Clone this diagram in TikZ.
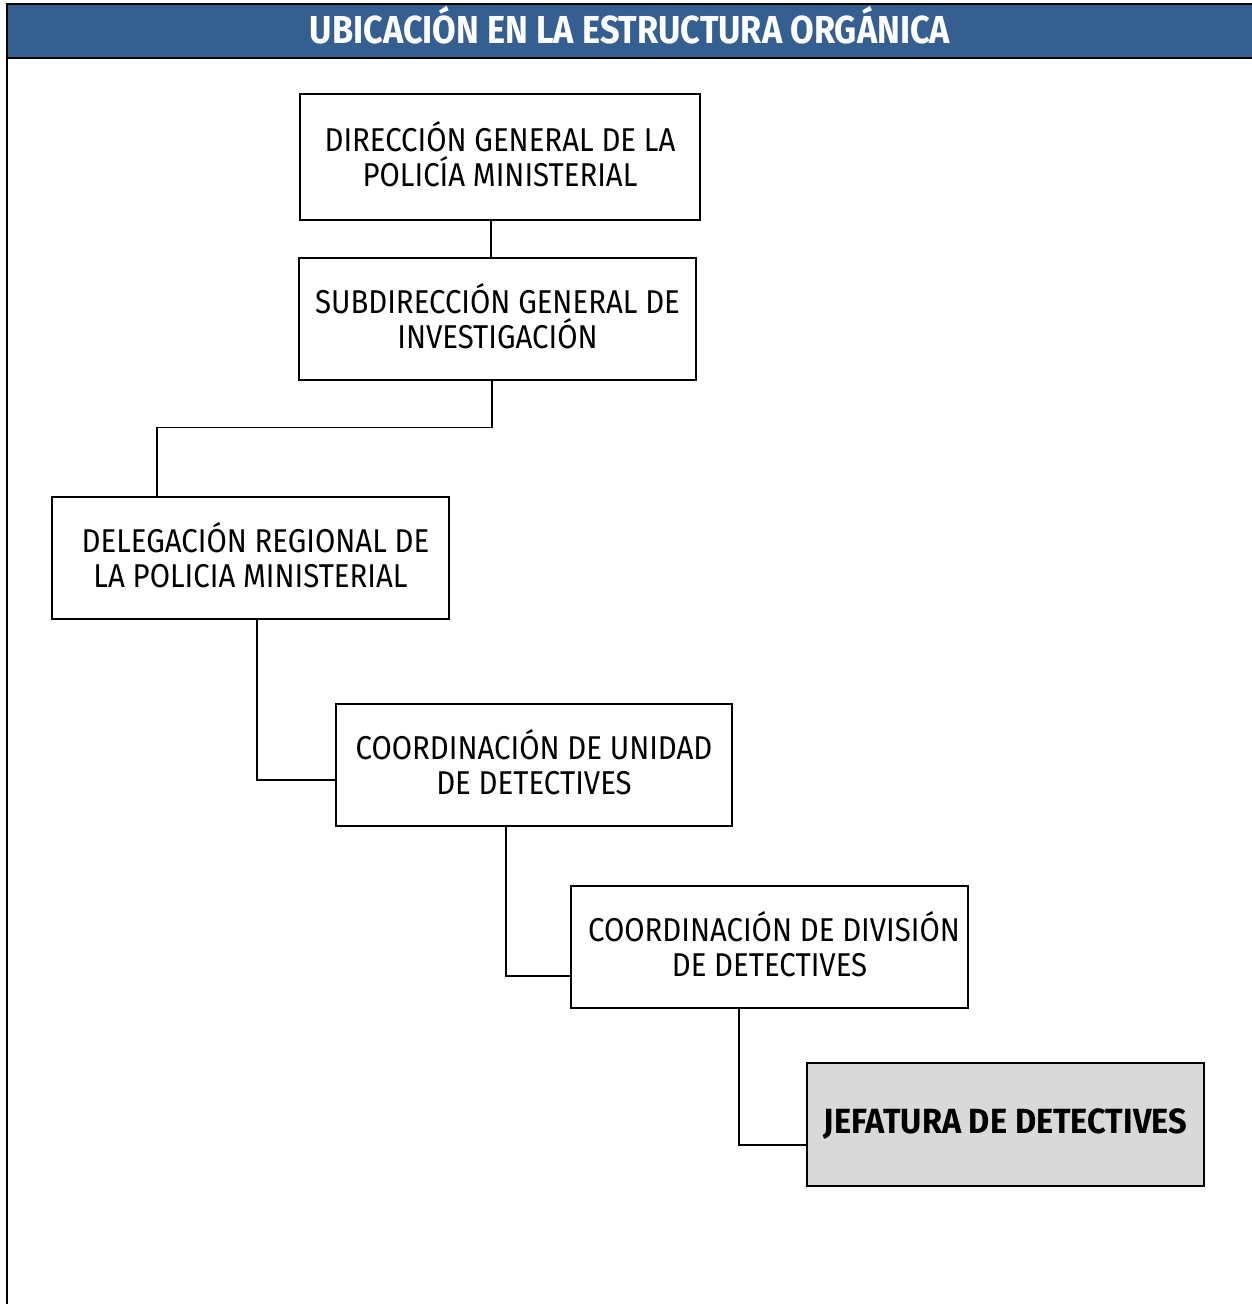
\documentclass[tikz,border=0pt]{standalone}
\usepackage{fontspec}
\setmainfont{Fira Sans}[FakeStretch=0.89]
\newfontfamily\headfont{Fira Sans}[FakeStretch=0.88]
\newfontfamily\bossfont{Fira Sans}[FakeStretch=0.93]
\usetikzlibrary{calc}
\definecolor{bandblue}{RGB}{53,95,145}
\definecolor{boxgray}{RGB}{217,217,217}
\begin{document}
\begin{tikzpicture}[x=1pt,y=-1pt,
  unit/.style={draw=black,line width=1.2pt,align=center,inner sep=0pt,
    font=\fontsize{33}{35}\selectfont,minimum width=397pt,minimum height=122pt,
    text depth=6pt},
  link/.style={draw=black,line width=1.2pt}]
\useasboundingbox (0,0) rectangle (1252,1304);
% header band and frame
\fill[bandblue] (6,4) rectangle (1252,58);
\draw[line width=2pt] (6,4) -- (1252,4);
\draw[line width=2pt] (6,58) -- (1252,58);
\draw[line width=2pt] (7,3) -- (7,1304);
\node[text=white,font=\headfont\fontsize{39}{40}\bfseries\selectfont] (title) at (630,25) {UBICACIÓN EN LA ESTRUCTURA ORGÁNICA};
% units
\node[unit,minimum width=400pt,minimum height=126pt] (dg) at (500,157) {DIRECCIÓN GENERAL DE LA\\POLICÍA MINISTERIAL};
\node[unit] (sg) at (497.5,319) {SUBDIRECCIÓN GENERAL DE\\INVESTIGACIÓN};
\node[unit] (dr) at (250.5,558) {\hspace*{10pt}DELEGACIÓN REGIONAL DE\\LA POLICIA MINISTERIAL};
\node[unit,minimum width=396pt] (cu) at (534,765) {COORDINACIÓN DE UNIDAD\\DE DETECTIVES};
\node[unit] (cd) at (769.5,947) {\hspace*{9pt}COORDINACIÓN DE DIVISIÓN\\DE DETECTIVES};
\node[unit,fill=boxgray,minimum height=123pt,font=\bossfont\fontsize{35}{36}\bfseries\selectfont] (jd) at (1005.5,1124.5) {JEFATURA DE DETECTIVES};
% connectors
\draw[link] (dg.south -| 491,0) -- (sg.north -| 491,0);
\draw[link] (sg.south -| 492,0) -- ++(0,47) -| (dr.north -| 157,0);
\draw[link] (dr.south -| 257,0) |- ([yshift=-15pt]cu.west);
\draw[link] (cu.south -| 506,0) |- ([yshift=-29pt]cd.west);
\draw[link] (cd.south -| 739,0) |- ([yshift=-20.5pt]jd.west);
\end{tikzpicture}
\end{document}
